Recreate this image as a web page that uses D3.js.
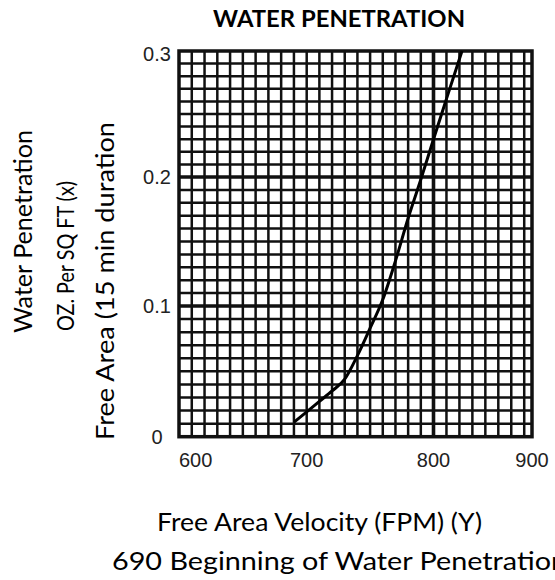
<!DOCTYPE html>
<html>
<head>
<meta charset="utf-8">
<script src="https://cdn.jsdelivr.net/npm/d3@7"></script>
<style>
  html, body { margin: 0; padding: 0; background: #fff; }
  svg { display: block; }
</style>
</head>
<body>
<svg id="chart" width="555" height="580"></svg>
<script>
// ---- data ----
const velocity = [690, 700, 710, 720, 730, 740, 750, 760, 770, 780, 790, 800, 810, 822];
const penetration = [0.011, 0.019, 0.027, 0.035, 0.044, 0.062, 0.083, 0.105, 0.135, 0.168, 0.198, 0.230, 0.262, 0.300];
const xTicks = [600, 700, 800, 900];
const yTicks = [0, 0.1, 0.2, 0.3];
const yTickLabels = ["0", "0.1", "0.2", "0.3"];
const xDomain = [600, 700, 800, 876];
const yDomain = [0, 0.1, 0.2, 0.3];
const titleText = "WATER PENETRATION";
const xTitleLines = ["Free Area Velocity (FPM) (Y)", "690 Beginning of Water Penetration"];
const yTitleLines = ["Water Penetration", "OZ. Per SQ FT (x)", "Free Area (15 min duration"];

const svg = d3.select("#chart");
const x = d3.scaleLinear().domain(xDomain).range([179, 306.7, 433.5, 532]);
const y = d3.scaleLinear().domain(yDomain).range([436.7, 306, 177, 51]);
const L = x(600), R = x(876), T = y(0.3), B = y(0);

const grid = svg.append("g");
const vx = d3.range(610, 876, 10);
grid.selectAll("line.v").data(vx).join("line")
  .attr("x1", d => x(d)).attr("x2", d => x(d))
  .attr("y1", T).attr("y2", B)
  .attr("stroke", "#111")
  .attr("stroke-width", d => d === 800 ? 3.6 : 2.5);
const hy = d3.range(1, 30).map(i => i / 100);
grid.selectAll("line.h").data(hy).join("line")
  .attr("x1", L).attr("x2", R)
  .attr("y1", d => y(d)).attr("y2", d => y(d))
  .attr("stroke", "#111")
  .attr("stroke-width", (d, i) => (i + 1) % 10 === 0 ? 3.6 : 2.5);
grid.append("rect")
  .attr("x", L).attr("y", T).attr("width", R - L).attr("height", B - T)
  .attr("fill", "none").attr("stroke", "#111").attr("stroke-width", 3.5);

// curve
const pts = velocity.map((v, i) => [v, penetration[i]]);
svg.append("path")
  .datum(pts)
  .attr("fill", "none")
  .attr("stroke", "#000")
  .attr("stroke-width", 3)
  .attr("stroke-linejoin", "round")
  .attr("d", d3.line().x(d => x(d[0])).y(d => y(d[1])).curve(d3.curveMonotoneX));

// tick labels
const tickFont = "'Liberation Sans', Arial, sans-serif";
svg.append("g").selectAll("text").data(xTicks).join("text")
  .attr("x", d => d === 600 ? x(600) : Math.min(x(Math.min(d, 876)), R))
  .attr("y", 467)
  .attr("text-anchor", d => d === 600 ? "start" : "middle")
  .attr("font-family", tickFont).attr("font-size", 20).attr("fill", "#222")
  .text(d => d);
svg.append("g").selectAll("text").data(yTicks).join("text")
  .attr("x", 157)
  .attr("y", d => y(d) + (d === 0.3 ? 10 : 7))
  .attr("text-anchor", "middle")
  .attr("font-family", tickFont).attr("font-size", 20).attr("fill", "#222")
  .text((d, i) => yTickLabels[i]);

// titles
const titleFont = "Lato, 'Open Sans', sans-serif";
svg.append("text")
  .attr("x", 339).attr("y", 27)
  .attr("text-anchor", "middle")
  .attr("font-family", titleFont).attr("font-weight", "bold").attr("font-size", 23)
  .attr("textLength", 252).attr("lengthAdjust", "spacingAndGlyphs")
  .attr("fill", "#000")
  .text(titleText);

const xTitleLen = [325, 455];
svg.append("g").selectAll("text").data(xTitleLines).join("text")
  .attr("x", (d, i) => i === 0 ? 157 : 112)
  .attr("y", (d, i) => i === 0 ? 531 : 570)
  .attr("text-anchor", "start")
  .attr("font-family", titleFont).attr("font-size", 25).attr("fill", "#000")
  .attr("textLength", (d, i) => xTitleLen[i]).attr("lengthAdjust", "spacingAndGlyphs")
  .text(d => d);

const yPos = [[32, 333, 203, 25], [74, 331, 150, 24], [114, 440, 318, 25]];
svg.append("g").selectAll("text").data(yTitleLines).join("text")
  .attr("transform", (d, i) => `translate(${yPos[i][0]},${yPos[i][1]}) rotate(-90)`)
  .attr("text-anchor", "start")
  .attr("font-family", titleFont)
  .attr("font-size", (d, i) => yPos[i][3])
  .attr("fill", "#000")
  .attr("textLength", (d, i) => yPos[i][2])
  .attr("lengthAdjust", "spacingAndGlyphs")
  .text(d => d);
</script>
</body>
</html>
